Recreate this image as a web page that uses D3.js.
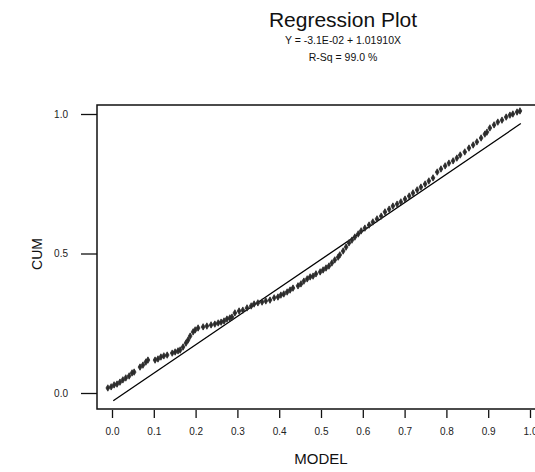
<!DOCTYPE html>
<html><head><meta charset="utf-8">
<script src="https://cdn.jsdelivr.net/npm/d3@7"></script>
<style>body{margin:0;background:#fff}svg{display:block}text{font-family:"Liberation Sans",Arial,sans-serif}</style>
</head><body>
<script>
const title = "Regression Plot";
const equation = "Y = -3.1E-02 + 1.01910X";
const rsq = "R-Sq = 99.0 %";
const xLabel = "MODEL";
const yLabel = "CUM";
const xTicks = [0.0,0.1,0.2,0.3,0.4,0.5,0.6,0.7,0.8,0.9,1.0];
const yTicks = [0.0,0.5,1.0];
const intercept = -0.031;
const slope = 1.01910;
const modelX = [-0.010,-0.002,0.005,0.012,0.019,0.026,0.033,0.041,0.048,0.053,0.067,0.074,0.081,0.086,0.103,0.110,0.117,0.124,0.132,0.144,0.151,0.158,0.163,0.170,0.177,0.182,0.187,0.194,0.199,0.206,0.218,0.227,0.237,0.246,0.254,0.261,0.268,0.275,0.282,0.287,0.294,0.304,0.313,0.323,0.333,0.340,0.349,0.359,0.368,0.378,0.388,0.397,0.404,0.411,0.419,0.426,0.433,0.445,0.452,0.459,0.467,0.474,0.481,0.488,0.498,0.505,0.512,0.519,0.526,0.533,0.541,0.545,0.553,0.560,0.567,0.574,0.581,0.589,0.596,0.605,0.615,0.624,0.634,0.644,0.653,0.663,0.672,0.682,0.691,0.701,0.711,0.720,0.730,0.739,0.749,0.758,0.768,0.778,0.787,0.797,0.806,0.816,0.825,0.833,0.844,0.854,0.864,0.873,0.883,0.892,0.897,0.904,0.914,0.923,0.933,0.943,0.952,0.959,0.969,0.976];
const cumY = [0.018,0.022,0.029,0.032,0.039,0.047,0.054,0.061,0.072,0.075,0.093,0.100,0.111,0.118,0.118,0.122,0.129,0.133,0.136,0.143,0.147,0.151,0.154,0.165,0.179,0.190,0.204,0.219,0.226,0.233,0.237,0.240,0.244,0.247,0.251,0.254,0.258,0.265,0.269,0.272,0.287,0.294,0.297,0.305,0.312,0.319,0.323,0.326,0.330,0.333,0.341,0.344,0.351,0.355,0.362,0.369,0.376,0.384,0.391,0.401,0.409,0.416,0.419,0.427,0.434,0.441,0.448,0.455,0.466,0.477,0.487,0.495,0.509,0.523,0.538,0.548,0.559,0.570,0.581,0.591,0.602,0.613,0.624,0.634,0.649,0.659,0.670,0.677,0.685,0.695,0.706,0.717,0.728,0.738,0.749,0.760,0.771,0.792,0.803,0.814,0.824,0.832,0.842,0.853,0.864,0.878,0.889,0.900,0.914,0.928,0.935,0.950,0.961,0.971,0.978,0.989,0.996,1.000,1.007,1.011];
const lineX = [0.003, 0.978];

const W = 535, H = 472;
const svg = d3.select("body").append("svg").attr("width", W).attr("height", H);
const x = d3.scaleLinear().domain([0,1]).range([112,530]);
const y = d3.scaleLinear().domain([0,1]).range([393,114]);
const frameL = 97, frameT = 105, frameB = 409;

// frame
svg.append("path").attr("d",`M${W},${frameT}H${frameL}V${frameB}H${W}`)
  .attr("fill","none").attr("stroke","#111").attr("stroke-width",1.5);

// x axis
const xAxis = d3.axisBottom(x).tickValues(xTicks).tickFormat(d3.format(".1f")).tickSize(8).tickPadding(10);
const gx = svg.append("g").attr("transform",`translate(0,${frameB+1})`).call(xAxis);
gx.select(".domain").remove();
gx.selectAll("line").attr("stroke","#111").attr("stroke-width",1.3);
gx.selectAll("text").attr("font-size",10).attr("fill","#222").attr("font-family","Liberation Sans, Arial");

// y axis
const yAxis = d3.axisLeft(y).tickValues(yTicks).tickFormat(d3.format(".1f")).tickSize(16).tickPadding(13);
const gy = svg.append("g").attr("transform",`translate(${frameL},0)`).call(yAxis);
gy.select(".domain").remove();
gy.selectAll("line").attr("stroke","#111").attr("stroke-width",1.3);
gy.selectAll("text").attr("font-size",10).attr("fill","#222").attr("font-family","Liberation Sans, Arial");

// regression line
svg.append("line")
  .attr("x1",x(lineX[0])).attr("y1",y(intercept+slope*lineX[0]))
  .attr("x2",x(lineX[1])).attr("y2",y(intercept+slope*lineX[1]))
  .attr("stroke","#000").attr("stroke-width",1.3);

// points
const sym = d3.symbol().type(d3.symbolDiamond).size(12);
svg.append("g").selectAll("path").data(modelX.map((v,i)=>[v,cumY[i]])).join("path")
  .attr("transform",d=>`translate(${x(d[0])},${y(d[1])})`)
  .attr("d",sym).attr("fill","#2b2b2b").attr("stroke","#2b2b2b").attr("stroke-width",0.8);

// titles
svg.append("text").attr("x",343).attr("y",27).attr("text-anchor","middle").attr("font-size",21).attr("fill","#111").text(title);
svg.append("text").attr("x",343).attr("y",44).attr("text-anchor","middle").attr("font-size",10.5).attr("fill","#111").text(equation);
svg.append("text").attr("x",343).attr("y",61).attr("text-anchor","middle").attr("font-size",10.5).attr("fill","#111").text(rsq);
svg.append("text").attr("x",321).attr("y",464).attr("text-anchor","middle").attr("font-size",15).attr("fill","#111").text(xLabel);
svg.append("text").attr("transform","translate(42,254) rotate(-90)").attr("text-anchor","middle").attr("font-size",14).attr("fill","#111").text(yLabel);
</script>
</body></html>
